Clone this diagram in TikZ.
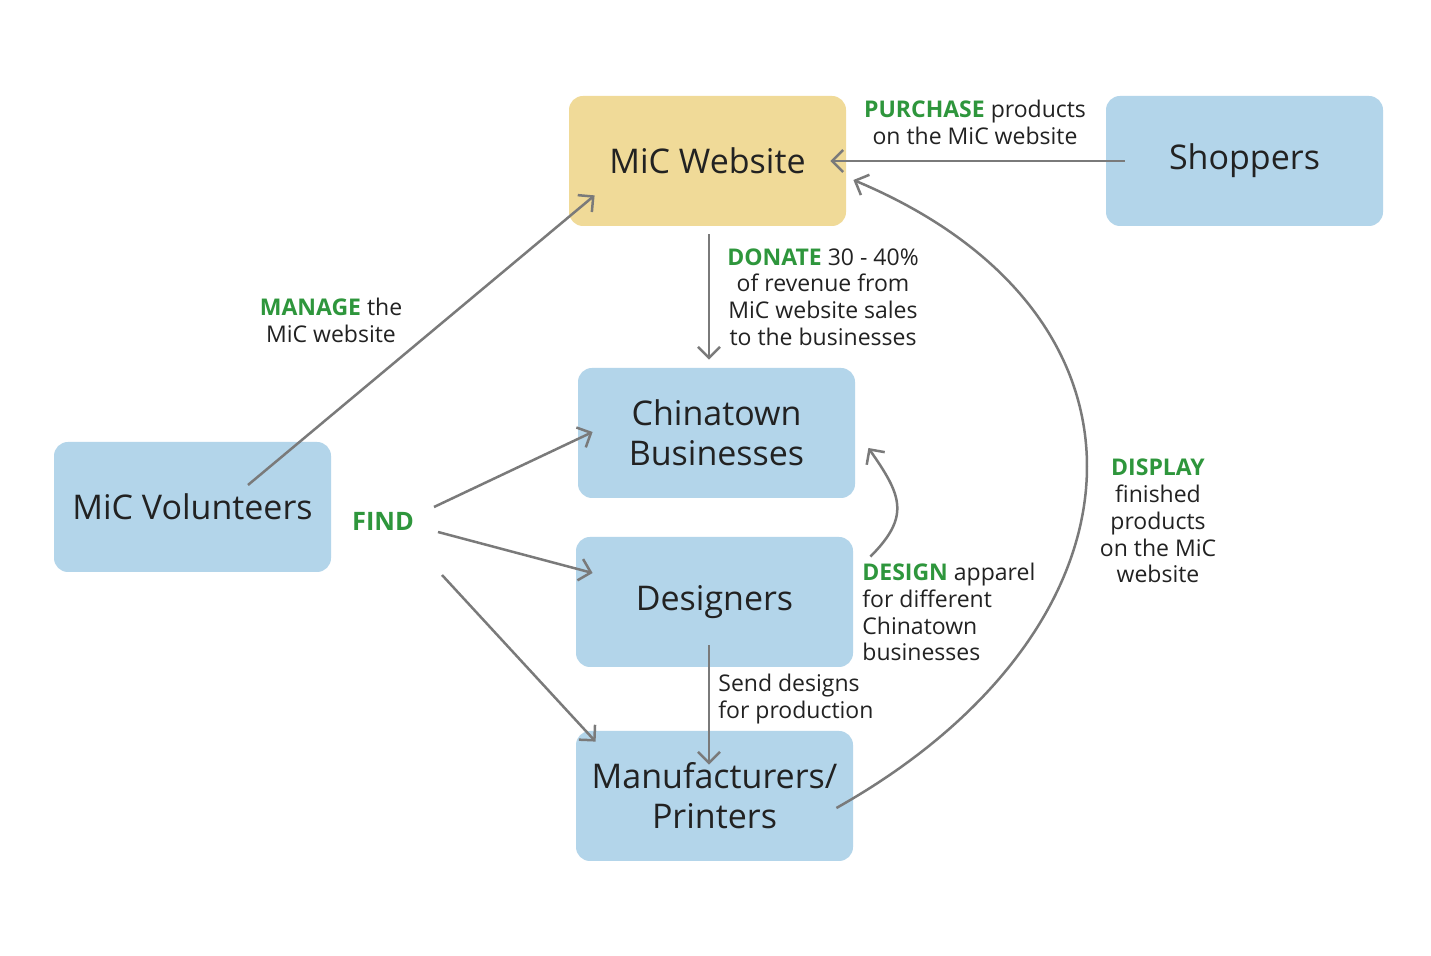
\documentclass[tikz,border=0pt]{standalone}
\usepackage{fontspec}
\setmainfont{Open Sans}
\usetikzlibrary{arrows.meta,calc}
\definecolor{boxyellow}{HTML}{F0DA98}
\definecolor{boxblue}{HTML}{B3D5EA}
\definecolor{labgreen}{HTML}{2E963C}
\definecolor{txt}{HTML}{222222}
\definecolor{conn}{HTML}{7A7A7A}
\tikzset{
  box/.style={rounded corners=7pt, minimum width=138.5pt, minimum height=65pt,
    inner sep=0pt, align=center, text=txt,
    font=\fontsize{17pt}{20pt}\selectfont},
  lab/.style={inner sep=0pt, text=txt, font=\fontsize{11.5pt}{13.4pt}\selectfont},
  conarrow/.style={draw=conn, line width=1.25pt, -{Straight Barb[length=5.5pt,width=11pt,line width=1.25pt]}},
}
\begin{document}
\begin{tikzpicture}[x=0.5pt,y=-0.5pt]
\useasboundingbox (0,0) rectangle (1431,956);
\fill[white] (0,0) rectangle (1431,956);
% boxes
\node[box, fill=boxyellow] (web) at (707.5,161) {MiC Website};
\node[box, fill=boxblue] (shop) at (1244.5,161) {Shoppers};
\node[box, fill=boxblue] (china) at (716.5,433) {Chinatown\\Businesses};
\node[box, fill=boxblue] (vol) at (192.5,507) {MiC Volunteers};
\node[box, fill=boxblue] (des) at (714.5,602) {Designers};
\node[box, fill=boxblue] (man) at (714.5,796) {Manufacturers/\\Printers};
% labels
\node[lab, align=center] (lpur) at (975,122) {{\color{labgreen}\bfseries PURCHASE} products\\on the MiC website};
\node[lab, align=center] (ldon) at (823,297) {{\color{labgreen}\bfseries DONATE} 30 - 40\%\\of revenue from\\MiC website sales\\to the businesses};
\node[lab, align=center] (lman) at (331,320) {{\color{labgreen}\bfseries MANAGE} the\\MiC website};
\node[lab, align=center] (ldis) at (1158,521) {{\color{labgreen}\bfseries DISPLAY}\\finished\\products\\on the MiC\\website};
\node[lab, align=left, anchor=west] (ldes) at (862,612) {{\color{labgreen}\bfseries DESIGN} apparel\\for different\\Chinatown\\businesses};
\node[lab, align=left, anchor=west] (lsend) at (718,699) {Send designs\\for production};
\node[inner sep=0pt, text=labgreen, font=\fontsize{12.7pt}{15pt}\selectfont\bfseries] (find) at (383,521) {FIND};
% connectors
\draw[conarrow] ([xshift=9.5pt]shop.west) -- ([xshift=-8pt]web.east);
\draw[conarrow] ([xshift=0.75pt,yshift=-4pt]web.south) -- ([xshift=-3.75pt,yshift=4pt]china.north);
\draw[conarrow] ([xshift=27.75pt,yshift=11pt]vol.center) -- ([xshift=13pt,yshift=15.5pt]web.south west);
\draw[conarrow] ([xshift=25.5pt,yshift=7pt]find.center) -- ([xshift=7.5pt,yshift=0.5pt]china.west);
\draw[conarrow] ([xshift=27.5pt,yshift=-5.5pt]find.center) -- ([xshift=8.5pt,yshift=14.5pt]des.west);
\draw[conarrow] ([xshift=29.5pt,yshift=-27pt]find.center) -- ([xshift=10pt,yshift=-5.5pt]man.north west);
\draw[conarrow] ([xshift=-2.75pt,yshift=11pt]des.south) -- ([xshift=-2.75pt,yshift=-17pt]man.north);
\draw[conarrow] ([xshift=8.5pt,yshift=-10pt]des.north east) to[out=45,in=-55,looseness=1.35] ([xshift=6.5pt,yshift=-7.5pt]china.east);
\coordinate (mstart) at ([xshift=-8.5pt,yshift=-6pt]man.east);
\coordinate (wend) at ([xshift=3.5pt,yshift=-9.5pt]web.east);
\draw[conarrow] (mstart) .. controls ($(mstart)+(160pt,90pt)$) and ($(wend)+(162pt,-68pt)$) .. (wend);
\end{tikzpicture}
\end{document}
